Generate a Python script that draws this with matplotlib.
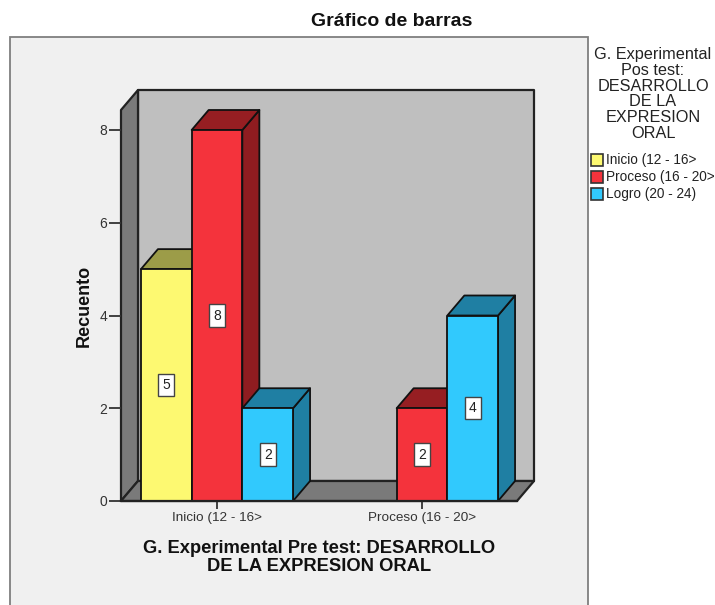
import matplotlib
matplotlib.use('Agg')
import matplotlib.pyplot as plt
from matplotlib.patches import Polygon, Rectangle

plt.rcParams['font.family'] = ['Liberation Sans', 'DejaVu Sans']

# Data
pre_test = ['Inicio (12 - 16>', 'Proceso (16 - 20>']
pos_test = ['Inicio (12 - 16>', 'Proceso (16 - 20>', 'Logro (20 - 24)']
inicio = [5, 0]
proceso = [8, 2]
logro = [2, 4]
y_ticks = [0, 2, 4, 6, 8]

W, H = 715, 605
front = ['#fdf971', '#f4333c', '#31c9fd']
top = ['#9c9c48', '#961e22', '#1f7fa3']
side = ['#9c9c48', '#8f1c20', '#1f7fa3']

fig = plt.figure(figsize=(W / 100, H / 100), dpi=100, facecolor='white')

# grey panel behind the chart
fig.patches.append(Rectangle((10 / W, -0.01), 578 / W, 1.01 - 37 / H, transform=fig.transFigure,
                             facecolor='#f0f0f0', edgecolor='#7f7f7f', linewidth=1.3, zorder=-1))

# axes = front plane of the 3D box, 121-517 px wide, 0 count at y=501 px
ax = fig.add_axes([121 / W, (H - 501) / H, 396 / W, 391 / H])
ax.set_xlim((121 - 217) / 205, (517 - 217) / 205)
ax.set_ylim(0, 391 / 46.375)
ax.patch.set_visible(False)
for s in ax.spines.values():
    s.set_visible(False)

# depth of the box in data units (17 px right, 20 px up)
dx = 17 / 205
dy = 20 / 46.375
x0, x1 = ax.get_xlim()
y1 = ax.get_ylim()[1]
edge = dict(edgecolor='#222222', linewidth=1.6, clip_on=False, joinstyle='round')

ax.add_patch(Polygon([(x0 + dx, dy), (x1 + dx, dy), (x1 + dx, y1 + dy), (x0 + dx, y1 + dy)],
                     facecolor='#bfbfbf', **edge))
ax.add_patch(Polygon([(x0, 0), (x0 + dx, dy), (x0 + dx, y1 + dy), (x0, y1)],
                     facecolor='#7a7a7a', **edge))
ax.add_patch(Polygon([(x0, 0), (x1, 0), (x1 + dx, dy), (x0 + dx, dy)],
                     facecolor='#7a7a7a', **edge))

# bars, drawn left to right so the next front covers the previous side
bw = 50.7 / 205
bar_edge = dict(edgecolor='#111111', linewidth=1.3, clip_on=False, joinstyle='round')
boxes = []
for g in range(len(pre_test)):
    for j, vals in enumerate([inicio, proceso, logro]):
        v = vals[g]
        if v == 0:
            continue
        left = g + (j - 1.5) * bw
        right = left + bw
        ax.add_patch(Polygon([(right, 0), (right + dx, dy), (right + dx, v + dy), (right, v)],
                             facecolor=side[j], **bar_edge))
        ax.add_patch(Polygon([(left, v), (right, v), (right + dx, v + dy), (left + dx, v + dy)],
                             facecolor=top[j], **bar_edge))
        ax.add_patch(Rectangle((left, 0), bw, v, facecolor=front[j], **bar_edge))
        boxes.append((left + bw / 2, v))

for xc, v in boxes:
    ax.text(xc, v / 2, str(v), ha='center', va='center', fontsize=10, color='#222222', zorder=5,
            bbox=dict(boxstyle='square,pad=0.3', facecolor='white', edgecolor='#444444', linewidth=1))

ax.set_yticks(y_ticks)
ax.set_xticks(range(len(pre_test)))
ax.set_xticklabels(pre_test)
ax.tick_params(axis='y', length=9, width=1.3, color='#333333', labelsize=10, labelcolor='#333333', pad=1)
ax.tick_params(axis='x', length=6, width=1.3, color='#333333', labelsize=9.7, labelcolor='#333333', pad=2)
ax.plot([x0, x1], [0, 0], color='#222222', linewidth=1.6, clip_on=False, zorder=4)

fig.text(392 / W, 1 - 22 / H, 'Gráfico de barras', ha='center', va='center',
         fontsize=14, fontweight='bold', color='#111111')
fig.text(84 / W, 1 - 306 / H, 'Recuento', rotation=90, ha='center', va='center',
         fontsize=13, fontweight='bold', color='#111111')
fig.text(319 / W, 1 - 557.5 / H, 'G. Experimental Pre test: DESARROLLO\nDE LA EXPRESION ORAL',
         ha='center', va='center', fontsize=13.2, fontweight='bold', color='#111111', linespacing=1.15)

# legend
fig.text(653 / W, 1 - 94 / H, 'G. Experimental\nPos test:\nDESARROLLO\nDE LA\nEXPRESION\nORAL',
         ha='center', va='center', fontsize=11.7, color='#222222', linespacing=1.08)
for i, lab in enumerate(pos_test):
    yc = 160 + i * 17
    fig.patches.append(Rectangle((591 / W, 1 - (yc + 6) / H), 12 / W, 12 / H, transform=fig.transFigure,
                                 facecolor=front[i], edgecolor='#333333', linewidth=1.2))
    fig.text(606 / W, 1 - yc / H, lab, ha='left', va='center', fontsize=9.8, color='#222222')

fig.savefig('out.png', dpi=100)
